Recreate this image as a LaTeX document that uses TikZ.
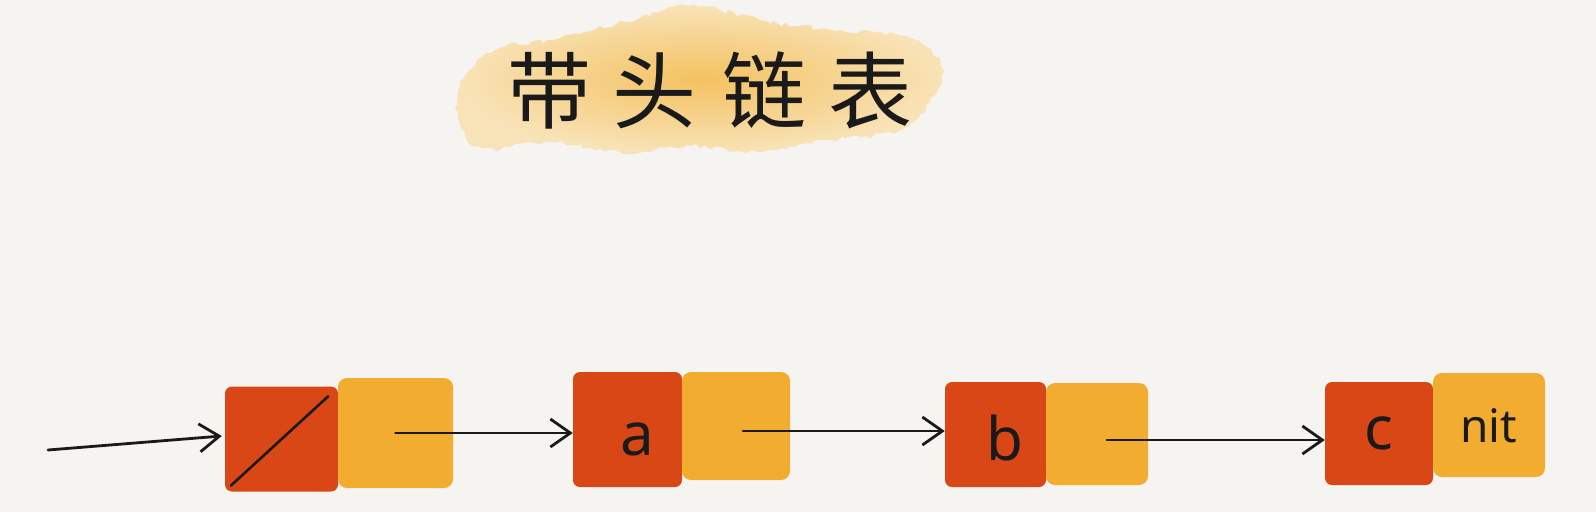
\documentclass[tikz,border=0pt]{standalone}
\usepackage{fontspec}
\setmainfont{Noto Sans}
\newfontfamily\cjk{Noto Sans CJK SC}
\usetikzlibrary{arrows.meta,decorations.pathmorphing,calc}
\definecolor{bgcol}{HTML}{F5F4F0}
\definecolor{redbox}{HTML}{DA4717}
\definecolor{yelbox}{HTML}{F2AD31}
\definecolor{blobpale}{HTML}{F8E3B8}
\definecolor{blobdeep}{HTML}{F4C160}
\definecolor{ink}{HTML}{1A1A1A}
\tikzset{
  datacell/.style={fill=redbox, rounded corners=7pt, inner sep=0pt, text=ink,
    font=\fontsize{60}{60}\selectfont},
  nextcell/.style={fill=yelbox, rounded corners=9pt, inner sep=0pt, text=ink,
    font=\fontsize{46}{46}\selectfont},
  link/.style={draw=ink, line width=2.8pt, line cap=round,
    -{Straight Barb[length=20pt,width=28pt,line width=2.8pt]}}
}
\begin{document}
\begin{tikzpicture}[x=1pt,y=-1pt]
\useasboundingbox (0,0) rectangle (1596,512);
\fill[bgcol] (0,0) rectangle (1596,512);
% title blob
\shade[inner color=blobdeep, outer color=blobpale, decorate,
       decoration={random steps, segment length=5pt, amplitude=2.5pt}]
  plot[smooth cycle, tension=0.7] coordinates {
   (458,112) (468,72) (500,48) (560,38) (625,22) (690,6) (760,20) (830,30)
   (900,36) (940,62) (930,102) (900,130) (830,140) (760,152) (690,146)
   (620,152) (550,142) (482,148)};
\node[font=\cjk\fontsize{84}{84}\selectfont, text=ink] (title) at (710,90)
  {带\hspace{22pt}头\hspace{26pt}链\hspace{22pt}表};
% nodes
\node[datacell, minimum width=113pt, minimum height=105pt] (h0) at (281.5,439) {};
\node[nextcell, minimum width=115pt, minimum height=110pt] (h0n) at (395.5,433) {};
\node[datacell, minimum width=109pt, minimum height=115pt, text height=52pt, text depth=0pt] (a) at (627.5,429.5) {\hspace*{20pt}a};
\node[nextcell, minimum width=108pt, minimum height=108pt] (an) at (736,426) {};
\node[datacell, minimum width=101pt, minimum height=105pt, text height=52pt, text depth=0pt] (b) at (995.5,434.5) {\hspace*{18pt}b};
\node[nextcell, minimum width=102pt, minimum height=102pt] (bn) at (1097,434) {};
\node[datacell, minimum width=108pt, minimum height=103pt] (c) at (1379,433.5) {c};
\node[nextcell, minimum width=112pt, minimum height=104pt, text height=34pt, text depth=0pt] (cn) at (1489,425) {nit};
% slash in head node
\draw[ink, line width=2.6pt, line cap=round] ($(h0.south west)+(6,-6)$) -- ($(h0.north east)+(-10,10)$);
% connectors
\coordinate (in) at (48,450);
\coordinate (s0) at (h0n.center);
\coordinate (s1) at ($(an.center)+(7,5)$);
\coordinate (s2) at ($(bn.center)+(10,6)$);
\draw[link] (in) -- ($(h0.west)+(-3,-3)$);
\draw[link] (s0) -- (s0 -| a.west);
\draw[link] (s1) -- (s1 -| b.west);
\draw[link] (s2) -- (s2 -| c.west);
\end{tikzpicture}
\end{document}
